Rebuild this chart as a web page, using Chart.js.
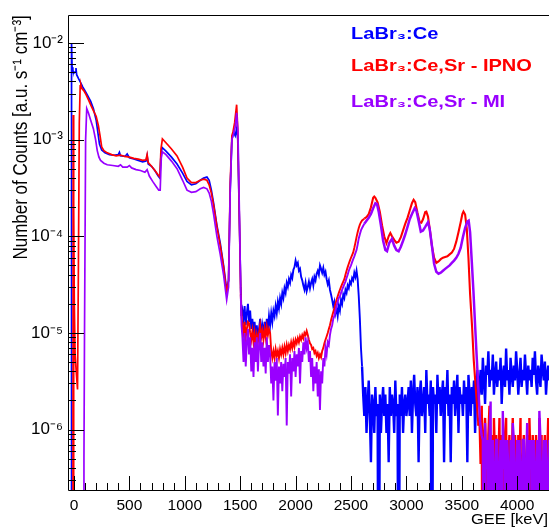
<!DOCTYPE html>
<html>
<head>
<meta charset="utf-8">
<script src="https://cdn.jsdelivr.net/npm/chart.js@4.4.1/dist/chart.umd.min.js"></script>
<style>
html,body{margin:0;padding:0;background:#ffffff;overflow:hidden;}
#wrap{position:relative;width:549px;height:528px;}
</style>
</head>
<body>
<div id="wrap"><canvas id="chart" width="549" height="528"></canvas></div>
<script>
// ---------- axis ranges & tick labels ----------
const X_MIN = -54, X_MAX = 4287;
const Y_MIN = 2.37e-7, Y_MAX = 0.0194;
const xTickValues = [0, 500, 1000, 1500, 2000, 2500, 3000, 3500, 4000];
const yTickValues = [1e-6, 1e-5, 1e-4, 1e-3, 1e-2];
const yTickLabels = ['10\u207B\u2076', '10\u207B\u2075', '10\u207B\u2074', '10\u207B\u00B3', '10\u207B\u00B2'];
const seriesNames = ['LaBr\u2083:Ce', 'LaBr\u2083:Ce,Sr - IPNO', 'LaBr\u2083:Ce,Sr - MI'];
const xTitle = 'GEE [keV]';
const yTitle = 'Number of Counts [a.u. s\u207B\u00B9 cm\u207B\u00B3]';

const Z = 1e-9;            // empty bin (drawn to the bottom of the frame)
const MID_START = 1520, MID_STEP = 10;   // mid-range bins, values in units of 1e-6
const TAIL_START = 2610;
const NOISE_STEP = 10;

// ---------- LaBr3:Ce (blue) ----------
const blueHead = [[-54,Z],[-26,Z],[-24,6e-5],[-22,3e-5],[-20,1.0e-2],[-17,5.6e-3],[-10,5.2e-3],[0,4.9e-3],[10,5.0e-3],[18,5.5e-3],[24,4.7e-3],[40,4.3e-3],[60,3.9e-3],[80,3.5e-3],[100,3.2e-3],[120,2.9e-3],[150,2.5e-3],[175,2.1e-3],[200,1.6e-3],[215,1.2e-3],[230,9.0e-4],[250,7.8e-4],[280,7.3e-4],[320,7.0e-4],[360,6.9e-4],[400,7.0e-4],[410,7.4e-4],[420,6.8e-4],[460,6.7e-4],[480,7.1e-4],[500,6.5e-4],[540,6.3e-4],[580,6.1e-4],[620,5.9e-4],[650,6.0e-4],[660,6.8e-4],[670,5.6e-4],[700,5.3e-4],[730,4.8e-4],[760,4.2e-4],[775,4.0e-4],[785,7.0e-4],[795,8.3e-4],[830,7.6e-4],[880,6.6e-4],[930,5.6e-4],[980,4.5e-4],[1020,3.7e-4],[1060,3.4e-4],[1100,3.5e-4],[1140,3.8e-4],[1170,4.0e-4],[1200,4.1e-4],[1220,3.8e-4],[1240,3.0e-4],[1260,2.2e-4],[1290,1.3e-4],[1320,8.5e-5],[1350,5.0e-5],[1378,2.8e-5],[1395,3.5e-5],[1410,3.0e-4],[1425,1.0e-3],[1440,1.2e-3],[1455,1.1e-3],[1468,1.3e-3],[1478,1.0e-3],[1492,1.6e-4],[1505,3.0e-5],[1512,1.5e-5]];
const blueMid = [17,14,19,12,16,20,13,17,11,14,
  10,13,9,12,8.5,11,14,9,12,10,
  13,9.5,14,11,15,12,16,13,17,15,
  19,16,21,18,23,20,26,23,29,26,
  33,30,36,33,40,37,45,48,56,50,
  53,44,46,38,35,31,28,33,27,30,
  34,29,33,36,31,38,35,41,44,40,
  50,46,42,47,40,43,36,32,35,28,
  25,22,19,21,16,18,15,19,17,22,
  20,25,23,28,26,31,29,34,32,37,
  35,42,38,44,36,24,14,7,4.5];
const blueNoiseStart = 2610, blueUnit = 4.6e-7;   // counts per bin
const blueNoise = [5,3,6,2,4,7,3,1,5,4, 2,6,3,4,0,5,2,4,6,3, 5,2,4,1,6,3,5,4,2,7, 3,4,0,5,3,6,2,4,5,3,
  4,6,3,7,2,5,8,4,3,6, 1,5,7,3,4,6,2,9,4,5, 3,7,0,6,4,5,2,8,4,6, 3,5,7,1,6,4,9,3,5,1, 6,4,7,3,5,8,2,6,4,5, 3,7,4,6,1,8,5,3,6,4, 7,2,5,9,4,6,
  9,5,12,7,4,10,8,14,6,9, 7,13,5,8,11,6,9,7,12,4, 8,10,6,15,7,9,5,12,8,6, 10,7,14,9,5,8,12,6,9,7, 13,8,5,10,7,9,6,12,8,14, 7,5,10,8,6,13,9,7,11,5, 8,10,7,9];

// ---------- LaBr3:Ce,Sr - IPNO (red) ----------
const redHead = [[-54,Z],[-10,Z],[-7,1.8e-3],[-5,1.6e-3],[-3,Z],[0,2.0e-4],[3,2.0e-5],[10,6e-6],[20,4e-6],[32,2.6e-6],[40,5e-5],[48,1.5e-3],[56,3.6e-3],[62,3.7e-3],[70,3.4e-3],[90,3.2e-3],[110,2.9e-3],[130,2.6e-3],[150,2.3e-3],[175,2.0e-3],[200,1.75e-3],[220,1.4e-3],[235,1.1e-3],[250,8.4e-4],[270,7.7e-4],[300,7.3e-4],[340,7.0e-4],[380,6.8e-4],[420,6.9e-4],[460,6.7e-4],[500,6.6e-4],[540,6.4e-4],[580,6.3e-4],[620,6.1e-4],[650,6.2e-4],[660,7.0e-4],[670,5.8e-4],[700,5.3e-4],[730,4.8e-4],[760,4.3e-4],[775,4.1e-4],[785,8.0e-4],[798,1.02e-3],[830,9.3e-4],[880,8.0e-4],[930,6.8e-4],[980,5.2e-4],[1020,4.0e-4],[1060,3.6e-4],[1100,3.6e-4],[1140,3.8e-4],[1170,3.9e-4],[1200,3.8e-4],[1220,3.4e-4],[1240,2.8e-4],[1260,2.1e-4],[1290,1.25e-4],[1320,8e-5],[1350,4.8e-5],[1378,2.6e-5],[1395,3.5e-5],[1410,3.5e-4],[1425,1.1e-3],[1435,1.2e-3],[1450,1.5e-3],[1468,2.3e-3],[1478,1.3e-3],[1492,1.6e-4],[1505,2.5e-5],[1512,1.5e-5]];
const redMid = [12,10,13,9,11,13,12.6,10,8.5,10.5,
  8,10,7.5,9.5,8,10,12,9,10.5,8.5,
  11,9,11.5,9.5,11,10,6.5,5.5,6.5,5.5,
  6.8,5.8,6.5,5.5,6.8,6,7,6,7.2,6.2,
  7.5,6.5,7.5,6.8,8,7,8.2,7.2,8.5,7.8,
  8.8,8,9.2,8.5,9.5,8.8,10,9.5,10.5,9.5,
  8.5,7.8,7.5,6.8,7,6.2,6.5,5.8,6.2,5.5,
  6,5.6,6.5,7,7.8,8.5,9.2,10,11,12,
  13.5,15,16.5,18,20,22,24,26,28,30,
  32,34,36,40,44,48,52,56,60,64,
  68,76,86,98,110,122,132,140,146];
const redTail = [[2620,152],[2640,158],[2660,170],[2680,200],[2700,250],[2710,258],[2720,250],[2740,225],[2760,180],[2780,130],[2800,100],[2820,85],[2840,100],[2855,108],[2870,100],[2890,92],[2910,86],[2930,88],[2950,98],[2970,115],[2990,135],[3010,155],[3030,185],[3050,220],[3065,238],[3080,225],[3100,175],[3120,140],[3135,138],[3150,150],[3170,178],[3180,180],[3195,160],[3215,110],[3230,80],[3250,60],[3270,53],[3290,55],[3310,58],[3330,60],[3350,61],[3370,62],[3390,65],[3410,68],[3430,74],[3450,88],[3470,110],[3490,140],[3505,170],[3515,180],[3530,168],[3545,120],[3560,60],[3575,25],[3593,11.5],[3608,5.2],[3623,3],[3638,1.74],[3650,1.1]];
const redNoiseStart = 3660, redUnit = 4.4e-7;
const redNoise = [3,1,4,0,2,3,1,0,2,4, 1,2,0,3,1,2,0,1,3,0, 2,1,0,2,3,0,1,2,0,1, 3,0,2,1,0,2,1,3,0,1, 2,0,1,2,0,3,1,0,2,1, 0,2,1,0,3,1,2,0,1,2, 0,1,3,0,2];

// ---------- LaBr3:Ce,Sr - MI (purple) ----------
const purpleHead = [[-54,Z],[86,Z],[90,5e-7],[95,1e-5],[105,1.0e-3],[115,2.1e-3],[130,1.9e-3],[150,1.6e-3],[175,1.3e-3],[195,1.0e-3],[210,7.7e-4],[225,6.6e-4],[240,6.1e-4],[270,5.7e-4],[300,5.5e-4],[350,5.4e-4],[400,5.3e-4],[420,5.5e-4],[440,5.2e-4],[480,5.2e-4],[500,5.4e-4],[520,5.1e-4],[560,4.9e-4],[600,4.8e-4],[640,4.6e-4],[660,4.9e-4],[680,4.2e-4],[710,3.7e-4],[740,3.3e-4],[765,3.0e-4],[778,3.0e-4],[788,6.5e-4],[798,7.5e-4],[830,7.0e-4],[880,6.0e-4],[930,5.0e-4],[980,3.8e-4],[1020,3.0e-4],[1060,2.85e-4],[1100,2.9e-4],[1140,3.1e-4],[1170,3.2e-4],[1200,3.1e-4],[1220,2.8e-4],[1240,2.3e-4],[1260,1.7e-4],[1290,1.0e-4],[1320,6.5e-5],[1350,4.0e-5],[1378,2.2e-5],[1395,3.0e-5],[1410,3.0e-4],[1425,1.0e-3],[1440,1.15e-3],[1455,1.35e-3],[1468,1.9e-3],[1480,1.2e-3],[1495,1.3e-4],[1505,2.5e-5],[1512,1.2e-5]];
const purpleMid = [9,5,10,4.5,8,11,6,9,4,7,
  3.5,8,5,9,4,7.5,10,5,8,4.5,
  7,3.8,9,5,7.5,6,3,4.5,2,5,
  3.2,5.5,1.4,4.5,3,5,2.5,4.8,3.5,5.5,
  1.1,5,3.8,6,2.2,5.5,4,6.5,3.5,6,
  4.5,7,3,6.5,5,8,6,9,7,8,
  5,6.5,3.5,5.5,2.5,4.5,3,5,2.2,4.2,
  1.6,4,3,5.5,4.5,7,6,8,7.5,9.5,
  11,12,14,15,17,19,21,23,24,26,
  28,30,32,34,37,40,44,47,50,54,
  58,62,67,72,82,95,105,115,122];
const purpleTail = [[2620,135],[2640,145],[2660,155],[2680,170],[2700,195],[2720,220],[2735,215],[2750,180],[2770,130],[2790,90],[2810,72],[2825,70],[2845,85],[2870,94],[2890,80],[2910,72],[2930,70],[2950,78],[2970,90],[2990,105],[3010,125],[3030,150],[3050,170],[3075,195],[3090,185],[3110,145],[3130,112],[3150,115],[3170,125],[3195,140],[3210,120],[3230,80],[3250,52],[3270,43],[3290,41],[3310,42],[3330,44],[3350,46],[3370,48],[3390,50],[3410,53],[3430,56],[3450,60],[3470,66],[3490,76],[3510,98],[3530,122],[3550,142],[3562,145],[3575,110],[3590,55],[3605,27],[3620,12],[3635,5.5],[3650,2.6],[3665,1.2],[3680,0.86]];
const purpleNoiseStart = 3690, purpleUnit = 3.9e-7;
const purpleNoise = [2,0,3,1,2,0,2,5,0,2, 1,0,2,2,0,1,2,0,4,1, 2,0,2,1,0,2,0,3,2,0, 1,2,0,2,1,0,2,2,0,1, 3,0,2,1,2,0,2,0,1,2, 0,4,2,0,1,2,0,2,1,0, 2,2];

const colors = { blue: '#0000ff', red: '#ff0000', purple: '#9900ff' };

// ---------- assemble histogram points ----------
function buildSeries(head, mid, tail, noise, noiseStart, unit) {
  const pts = [];
  head.forEach(([e, v]) => pts.push({x: e, y: v}));
  mid.forEach((v, i) => pts.push({x: MID_START + i * MID_STEP, y: v * 1e-6}));
  tail.forEach(([e, v]) => pts.push({x: e, y: v * 1e-6}));
  noise.forEach((c, i) => pts.push({x: noiseStart + i * NOISE_STEP, y: c > 0 ? c * unit : Z}));
  return pts;
}
const blueData = buildSeries(blueHead, blueMid, [], blueNoise, blueNoiseStart, blueUnit);
const redData = buildSeries(redHead, redMid, redTail, redNoise, redNoiseStart, redUnit);
const purpleData = buildSeries(purpleHead, purpleMid, purpleTail, purpleNoise, purpleNoiseStart, purpleUnit);

const FONT = "'Liberation Sans', Arial, Helvetica, sans-serif";
const STRETCH = 1.18;

const overlay = {
  id: 'overlay',
  afterDraw(chart) {
    const {ctx, chartArea: a, scales: {x, y}} = chart;
    ctx.save();
    ctx.strokeStyle = '#000';
    ctx.lineWidth = 1;
    // frame (left, top, bottom)
    ctx.beginPath();
    ctx.moveTo(549, Math.round(a.top) + 0.5);
    ctx.lineTo(Math.round(a.left) + 0.5, Math.round(a.top) + 0.5);
    ctx.lineTo(Math.round(a.left) + 0.5, Math.round(a.bottom) + 0.5);
    ctx.lineTo(549, Math.round(a.bottom) + 0.5);
    ctx.stroke();
    // y tick marks (inside)
    ctx.beginPath();
    for (let d = -7; d <= -1; d++) {
      for (let m = 1; m <= 9; m++) {
        const v = m * Math.pow(10, d);
        if (v < Y_MIN || v > Y_MAX) continue;
        const py = Math.round(y.getPixelForValue(v)) + 0.5;
        const len = m === 1 ? 16 : 8;
        ctx.moveTo(a.left, py);
        ctx.lineTo(a.left + len, py);
      }
    }
    // x tick marks (inside)
    for (let e = 0; e <= X_MAX; e += 100) {
      const px = Math.round(x.getPixelForValue(e)) + 0.5;
      const len = e % 500 === 0 ? 14 : 7;
      ctx.moveTo(px, a.bottom);
      ctx.lineTo(px, a.bottom - len);
    }
    ctx.stroke();

    // axis titles
    ctx.fillStyle = '#000';
    ctx.save();
    ctx.translate(21, a.top);
    ctx.rotate(-Math.PI / 2);
    ctx.scale(1, STRETCH);
    ctx.font = '17px ' + FONT;
    ctx.textAlign = 'right';
    ctx.textBaseline = 'middle';
    ctx.fillText(yTitle, 0, 0);
    ctx.restore();

    ctx.save();
    ctx.scale(1.1, 1);
    ctx.font = '15px ' + FONT;
    ctx.textAlign = 'right';
    ctx.textBaseline = 'alphabetic';
    ctx.fillText(xTitle, 548 / 1.1, 524);
    ctx.restore();

    // legend text
    const legendColors = [colors.blue, colors.red, colors.purple];
    const legendY = [38.5, 71, 107];
    ctx.save();
    ctx.scale(STRETCH, 1);
    ctx.font = 'bold 17px ' + FONT;
    ctx.textAlign = 'left';
    ctx.textBaseline = 'alphabetic';
    seriesNames.forEach((t, i) => {
      ctx.fillStyle = legendColors[i];
      ctx.fillText(t, 351 / STRETCH, legendY[i]);
    });
    ctx.restore();
    ctx.restore();
  }
};

function makeDataset(label, data, color, noiseStart, tailWidth) {
  return {
    label, data, borderColor: color,
    pointRadius: 0, borderWidth: 1.7, tension: 0, fill: false, clip: 0,
    segment: {
      borderWidth: (c) => {
        const e = c.p0.parsed.x;
        if (e >= noiseStart - NOISE_STEP) return 2.4;
        if (e >= TAIL_START) return tailWidth;
        if (e >= 1505) return 1.9;
        return 1.7;
      }
    }
  };
}

new Chart(document.getElementById('chart').getContext('2d'), {
  type: 'line',
  data: {
    datasets: [
      makeDataset(seriesNames[2], purpleData, colors.purple, purpleNoiseStart, 2.5),
      makeDataset(seriesNames[1], redData, colors.red, redNoiseStart, 2.1),
      makeDataset(seriesNames[0], blueData, colors.blue, blueNoiseStart, 2.4)
    ]
  },
  options: {
    responsive: false,
    animation: false,
    devicePixelRatio: 1,
    layout: { padding: { top: 12, left: 0, right: 0, bottom: 0 } },
    plugins: { legend: { display: false }, tooltip: { enabled: false } },
    scales: {
      x: {
        type: 'linear', min: X_MIN, max: X_MAX,
        grid: { display: false, drawTicks: false },
        border: { display: false },
        afterFit(s) { s.height = 38; },
        afterBuildTicks(s) { s.ticks = xTickValues.map(v => ({value: v})); },
        ticks: { autoSkip: false, maxRotation: 0, padding: 6, color: '#000',
                 font: { family: FONT, size: 15.5 },
                 callback: (v) => String(v) }
      },
      y: {
        type: 'logarithmic', min: Y_MIN, max: Y_MAX,
        grid: { display: false, drawTicks: false },
        border: { display: false },
        afterFit(s) { s.width = 68; },
        afterBuildTicks(s) { s.ticks = yTickValues.map(v => ({value: v})); },
        ticks: { autoSkip: false, padding: 5, color: '#000',
                 font: { family: FONT, size: 17 },
                 callback: (v, i) => yTickLabels[i] }
      }
    }
  },
  plugins: [overlay]
});
</script>
</body>
</html>
